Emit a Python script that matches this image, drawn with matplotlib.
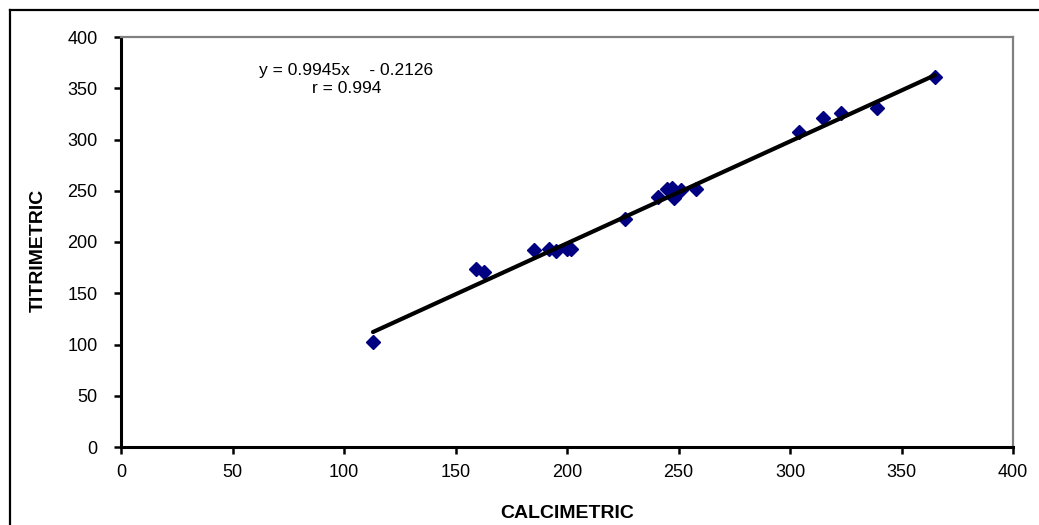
import numpy as np
import matplotlib
matplotlib.use("Agg")
import matplotlib.pyplot as plt
from matplotlib.lines import Line2D

plt.rcParams['font.family'] = ['Liberation Sans', 'DejaVu Sans']

# Data
calcimetric = [113, 159, 163, 185, 192, 195, 200, 202, 226, 241, 245, 247, 248, 251, 258,
               304, 315, 323, 339, 365]
titrimetric = [102, 174, 171, 192, 193, 191, 193, 193, 222, 244, 252, 253, 243, 251, 252,
               307, 321, 326, 331, 361]
slope = 0.9945
intercept = -0.2126
r_value = 0.994
x_ticks = [0, 50, 100, 150, 200, 250, 300, 350, 400]
y_ticks = [0, 50, 100, 150, 200, 250, 300, 350, 400]

W, H = 1039, 525
fig = plt.figure(figsize=(W / 100, H / 100), dpi=100)
ax = fig.add_axes([121 / W, 1 - 447 / H, (1013 - 121) / W, (447 - 37) / H])

# Outer chart border (extends past the right and bottom of the image)
fig.add_artist(Line2D([10 / W, 1.05], [1 - 10 / H, 1 - 10 / H], color='black', lw=1.6,
                      transform=fig.transFigure))
fig.add_artist(Line2D([10 / W, 10 / W], [1 - 10 / H, -0.05], color='black', lw=1.6,
                      transform=fig.transFigure))

ax.plot(calcimetric, titrimetric, linestyle='none', marker='D', markersize=7.5,
        color='#000080', markeredgecolor='#000080', zorder=2)

xs = np.array([min(calcimetric), max(calcimetric)])
ax.plot(xs, slope * xs + intercept, color='black', lw=3, solid_capstyle='round', zorder=3)

ax.set_xlim(0, 400)
ax.set_ylim(0, 400)
ax.set_xticks(x_ticks)
ax.set_yticks(y_ticks)
ax.tick_params(axis='both', direction='out', length=5, width=1.8, labelsize=13,
               colors='black')
ax.tick_params(axis='x', pad=7.5)
ax.tick_params(axis='y', pad=12)

for side in ('left', 'bottom'):
    ax.spines[side].set_color('black')
    ax.spines[side].set_linewidth(2.2)
for side in ('top', 'right'):
    ax.spines[side].set_color('#808080')
    ax.spines[side].set_linewidth(1.6)

ax.set_xlabel('CALCIMETRIC', fontsize=14, fontweight='bold')
ax.set_ylabel('TITRIMETRIC', fontsize=14, fontweight='bold')
ax.xaxis.set_label_coords(0.5, -(513 - 447) / 410, transform=ax.transAxes)
ax.yaxis.set_label_coords(-(121 - 38) / 892, 0.48, transform=ax.transAxes)
ax.xaxis.label.set_va('center')
ax.yaxis.label.set_va('center')

ax.text(101, 375, f'y = {slope}x    - {abs(intercept)}\nr = {r_value}', ha='center',
        va='top', fontsize=12.5, linespacing=1.25)

fig.savefig('out.png', dpi=100)
